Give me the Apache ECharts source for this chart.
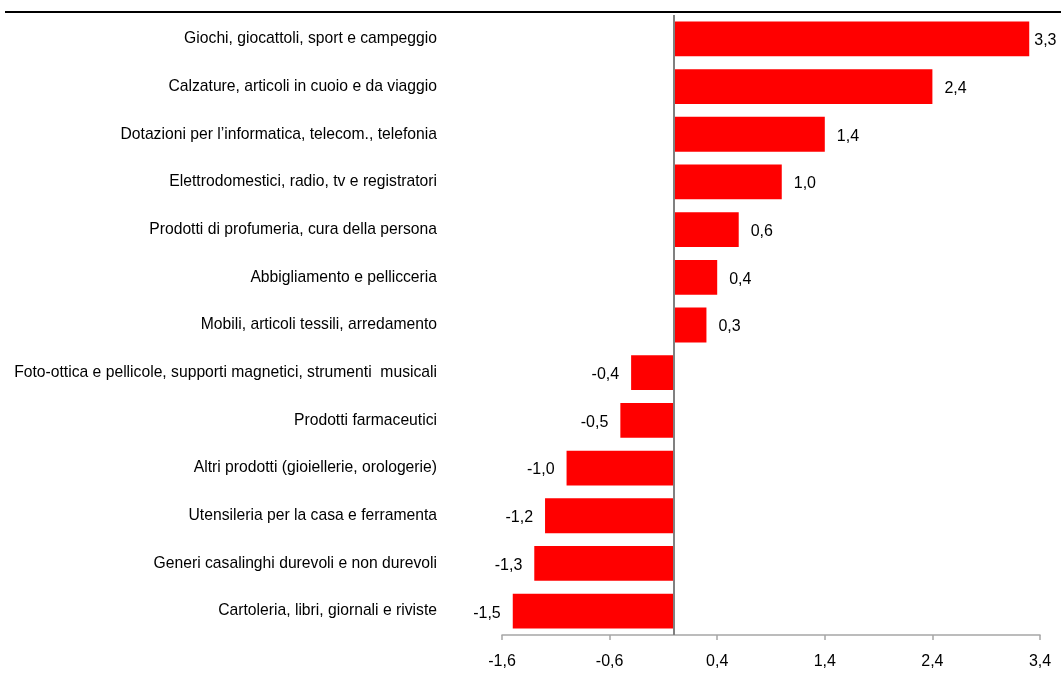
<!DOCTYPE html>
<html>
<head>
<meta charset="utf-8">
<script src="https://cdn.jsdelivr.net/npm/echarts@6/dist/echarts.min.js"></script>
<style>
  html, body { margin: 0; padding: 0; background: #fff; }
  #myChart { width: 1061px; height: 694px; }
</style>
</head>
<body>
<div id="myChart"></div>
<script>
// categorie, dall'alto verso il basso
const categories = [
  "Giochi, giocattoli, sport e campeggio",
  "Calzature, articoli in cuoio e da viaggio",
  "Dotazioni per l\u2019informatica, telecom., telefonia",
  "Elettrodomestici, radio, tv e registratori",
  "Prodotti di profumeria, cura della persona",
  "Abbigliamento e pellicceria",
  "Mobili, articoli tessili, arredamento",
  "Foto-ottica e pellicole, supporti magnetici, strumenti  musicali",
  "Prodotti farmaceutici",
  "Altri prodotti (gioiellerie, orologerie)",
  "Utensileria per la casa e ferramenta",
  "Generi casalinghi durevoli e non durevoli",
  "Cartoleria, libri, giornali e riviste"
];
const values = [3.3, 2.4, 1.4, 1.0, 0.6, 0.4, 0.3, -0.4, -0.5, -1.0, -1.2, -1.3, -1.5];
const xTicks = [-1.6, -0.6, 0.4, 1.4, 2.4, 3.4];

const FONT = "'Liberation Sans', Arial, sans-serif";
const fmt = (v) => Number(v).toFixed(1).replace(".", ",");

const chart = echarts.init(document.getElementById("myChart"));
const option = {
  animation: false,
  grid: { left: 502, right: 21, top: 15, bottom: 59 },
  xAxis: {
    type: "value",
    min: xTicks[0],
    max: xTicks[xTicks.length - 1],
    interval: 1,
    axisLine: { show: true, lineStyle: { color: "#a6a6a6", width: 1.5 } },
    axisTick: { show: true, length: 5, lineStyle: { color: "#a6a6a6", width: 1.5 } },
    splitLine: { show: false },
    axisLabel: {
      color: "#000",
      fontFamily: FONT,
      fontSize: 16,
      margin: 19,
      formatter: (v) => fmt(v),
    },
  },
  yAxis: {
    type: "category",
    inverse: true,
    data: categories,
    axisLine: { show: false },
    axisTick: { show: false },
    axisLabel: {
      color: "#000",
      fontFamily: FONT,
      fontSize: 15.7,
      margin: 65,
      lineHeight: 22,
      padding: [6, 0, 0, 0],
    },
  },
  series: [
    {
      type: "bar",
      barCategoryGap: "27%",
      itemStyle: { color: "#ff0000" },
      data: values.map((v) => ({
        value: v,
        // l'etichetta della barra più lunga sta più vicina per non uscire dal bordo
        label: { position: v >= 0 ? "right" : "left", distance: v > 3 ? 5 : 12 },
      })),
      label: {
        show: true,
        distance: 12,
        color: "#000",
        fontFamily: FONT,
        fontSize: 16,
        offset: [0, 2],
        formatter: (p) => fmt(p.value),
      },
      markLine: {
        silent: true,
        symbol: "none",
        label: { show: false },
        lineStyle: { color: "#808080", width: 2, type: "solid" },
        data: [{ xAxis: 0 }],
      },
    },
  ],
  graphic: [
    {
      type: "line",
      shape: { x1: 5, y1: 12, x2: 1061, y2: 12 },
      style: { stroke: "#000", lineWidth: 2 },
    },
  ],
};
chart.setOption(option);
</script>
</body>
</html>
